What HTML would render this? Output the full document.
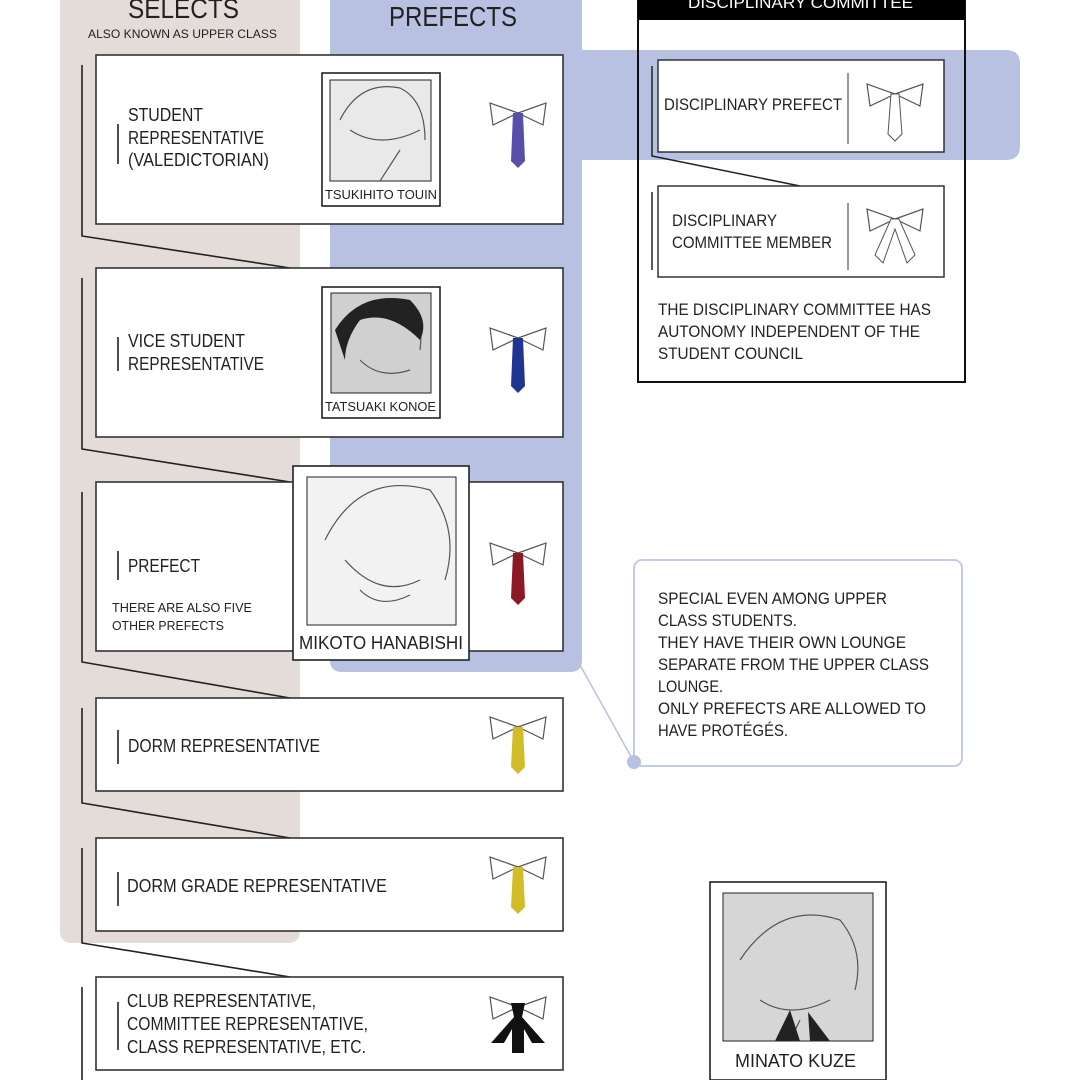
<!DOCTYPE html>
<html><head><meta charset="utf-8"><style>
html,body{margin:0;padding:0;background:#fff;width:1080px;height:1080px;overflow:hidden}
svg text{font-family:"Liberation Sans",sans-serif;fill:#222}
</style></head><body>
<svg width="1080" height="1080" viewBox="0 0 1080 1080" xmlns="http://www.w3.org/2000/svg">
<defs>
<g id="bow" fill="#fff" stroke="#555" stroke-width="1.2">
<polygon points="0,0 -28,-10 -25,12"/>
<polygon points="0,0 28,-10 25,12"/>
</g>
</defs>
<path d="M60 0 H300 V931 Q300 943 288 943 H72 Q60 943 60 931 Z" fill="#e4dcd9"/>
<path d="M330 0 H582 V660 Q582 672 570 672 H342 Q330 672 330 660 Z" fill="#b8c1e2"/>
<path d="M582 50 H1006 Q1020 50 1020 64 V146 Q1020 160 1006 160 H582 Z" fill="#b8c1e2"/>
<text x="128" y="18" font-size="28" textLength="111" lengthAdjust="spacingAndGlyphs">SELECTS</text>
<text x="88" y="38" font-size="12" textLength="189" lengthAdjust="spacingAndGlyphs">ALSO KNOWN AS UPPER CLASS</text>
<text x="389" y="26" font-size="28" textLength="128" lengthAdjust="spacingAndGlyphs">PREFECTS</text>
<rect x="638" y="-2" width="327" height="384" fill="none" stroke="#111" stroke-width="2"/>
<rect x="638" y="-2" width="327" height="22" fill="#000"/>
<text x="688" y="8" font-size="16" style="fill:#fff" textLength="225" lengthAdjust="spacingAndGlyphs">DISCIPLINARY COMMITTEE</text>
<path d="M652 66 V156 L800 186 M652 192 V270" fill="none" stroke="#222" stroke-width="1.5"/>
<rect x="658" y="60" width="286" height="92" fill="#fff" stroke="#333" stroke-width="1.5"/>
<rect x="658" y="186" width="286" height="91" fill="#fff" stroke="#333" stroke-width="1.5"/>
<line x1="848" y1="73" x2="848" y2="144" stroke="#333"/>
<line x1="848" y1="203" x2="848" y2="270" stroke="#333"/>
<g font-size="17">
<text x="664" y="110" textLength="178" lengthAdjust="spacingAndGlyphs">DISCIPLINARY PREFECT</text>
<text x="672" y="226" textLength="105" lengthAdjust="spacingAndGlyphs">DISCIPLINARY</text>
<text x="672" y="248" textLength="160" lengthAdjust="spacingAndGlyphs">COMMITTEE MEMBER</text>
<text x="658" y="315" textLength="273" lengthAdjust="spacingAndGlyphs">THE DISCIPLINARY COMMITTEE HAS</text>
<text x="658" y="337" textLength="262" lengthAdjust="spacingAndGlyphs">AUTONOMY INDEPENDENT OF THE</text>
<text x="658" y="359" textLength="145" lengthAdjust="spacingAndGlyphs">STUDENT COUNCIL</text>
</g>
<g transform="translate(895,94)"><use href="#bow"/><polygon points="-4,0 4,0 7,40 0,47 -7,40" fill="#fff" stroke="#555"/></g>
<g transform="translate(895,219)"><use href="#bow"/><path d="M-4 0 L-20 36 L-12 44 L0 10 L12 44 L20 36 L4 0 Z" fill="#fff" stroke="#555"/></g>
<g fill="none" stroke="#222" stroke-width="1.6">
<path d="M82 65 V236 L290 268"/>
<path d="M82 278 V449 L290 482"/>
<path d="M82 492 V662 L290 698"/>
<path d="M82 708 V803 L290 838"/>
<path d="M82 848 V943 L290 977"/>
<path d="M82 987 V1080"/>
</g>
<g fill="#fff" stroke="#333" stroke-width="1.6">
<rect x="96" y="55" width="467" height="169"/>
<rect x="96" y="268" width="467" height="169"/>
<rect x="96" y="482" width="467" height="169"/>
<rect x="96" y="698" width="467" height="93"/>
<rect x="96" y="838" width="467" height="93"/>
<rect x="96" y="977" width="467" height="93"/>
</g>
<g stroke="#222" stroke-width="1.6">
<line x1="118" y1="124" x2="118" y2="164"/>
<line x1="118" y1="337" x2="118" y2="371"/>
<line x1="118" y1="551" x2="118" y2="580"/>
<line x1="118" y1="730" x2="118" y2="764"/>
<line x1="118" y1="872" x2="118" y2="906"/>
<line x1="118" y1="1002" x2="118" y2="1050"/>
</g>
<g font-size="18">
<text x="128" y="121" textLength="75" lengthAdjust="spacingAndGlyphs">STUDENT</text>
<text x="128" y="144" textLength="136" lengthAdjust="spacingAndGlyphs">REPRESENTATIVE</text>
<text x="128" y="166" textLength="141" lengthAdjust="spacingAndGlyphs">(VALEDICTORIAN)</text>
<text x="128" y="347" textLength="117" lengthAdjust="spacingAndGlyphs">VICE STUDENT</text>
<text x="128" y="370" textLength="136" lengthAdjust="spacingAndGlyphs">REPRESENTATIVE</text>
<text x="128" y="572" textLength="72" lengthAdjust="spacingAndGlyphs">PREFECT</text>
<text x="128" y="752" textLength="192" lengthAdjust="spacingAndGlyphs">DORM REPRESENTATIVE</text>
<text x="127" y="892" textLength="260" lengthAdjust="spacingAndGlyphs">DORM GRADE REPRESENTATIVE</text>
<text x="127" y="1007" textLength="189" lengthAdjust="spacingAndGlyphs">CLUB REPRESENTATIVE,</text>
<text x="127" y="1030" textLength="241" lengthAdjust="spacingAndGlyphs">COMMITTEE REPRESENTATIVE,</text>
<text x="127" y="1053" textLength="239" lengthAdjust="spacingAndGlyphs">CLASS REPRESENTATIVE, ETC.</text>
</g>
<text x="112" y="612" font-size="13" textLength="140" lengthAdjust="spacingAndGlyphs">THERE ARE ALSO FIVE</text>
<text x="112" y="630" font-size="13" textLength="112" lengthAdjust="spacingAndGlyphs">OTHER PREFECTS</text>
<g transform="translate(518,113)"><use href="#bow"/><polygon points="-5,0 5,0 7,48 0,55 -7,48" fill="#5a4fa8"/></g>
<g transform="translate(518,338)"><use href="#bow"/><polygon points="-5,0 5,0 7,48 0,55 -7,48" fill="#203592"/></g>
<g transform="translate(518,553)"><use href="#bow"/><polygon points="-5,0 5,0 7,45 0,52 -7,45" fill="#8c1a24"/></g>
<g transform="translate(518,727)"><use href="#bow"/><polygon points="-5,0 5,0 7,40 0,47 -7,40" fill="#d2bd28"/></g>
<g transform="translate(518,867)"><use href="#bow"/><polygon points="-5,0 5,0 7,40 0,47 -7,40" fill="#d2bd28"/></g>
<g transform="translate(518,1007)"><use href="#bow"/><path d="M-7 -4 H7 L4 10 L27 36 L14 36 L6 22 L6 46 L-6 46 L-6 22 L-14 36 L-27 36 L-4 10 Z" fill="#111"/></g>
<g stroke="#222" stroke-width="1.6">
<rect x="322" y="73" width="118" height="133" fill="#fff"/>
<rect x="330" y="80" width="101" height="101" fill="#e9e9e9" stroke-width="1"/>
<rect x="322" y="287" width="118" height="131" fill="#fff"/>
<rect x="331" y="293" width="100" height="100" fill="#d0d0d0" stroke-width="1"/>
<rect x="293" y="466" width="176" height="194" fill="#fff"/>
<rect x="307" y="477" width="149" height="148" fill="#f2f2f2" stroke-width="1"/>
<rect x="710" y="882" width="176" height="198" fill="#fff"/>
<rect x="723" y="893" width="150" height="148" fill="#d6d6d6" stroke-width="1"/>
</g>
<g fill="none" stroke="#555" stroke-width="1.2">
<path d="M340 120 Q360 80 400 88 Q425 100 425 140 M350 130 Q380 150 420 130 M380 181 L400 150"/>
<path d="M340 330 Q360 295 400 300 Q425 310 420 350 M360 360 Q380 380 410 370"/>
<path d="M325 540 Q360 470 430 490 Q460 530 445 580 M345 560 Q380 600 420 580 M360 590 Q380 610 410 595"/>
<path d="M740 960 Q780 900 840 920 Q865 950 855 990 M760 1000 Q790 1020 830 1000 M790 1041 L800 1020"/>
</g>
<path d="M335 330 Q360 290 410 300 Q430 320 420 340 Q390 310 360 320 Q345 340 345 360 Z" fill="#222"/>
<path d="M775 1041 L790 1010 L800 1041 Z M810 1041 L808 1012 L830 1041 Z" fill="#222"/>
<text x="325" y="199" font-size="13" textLength="112" lengthAdjust="spacingAndGlyphs">TSUKIHITO TOUIN</text>
<text x="325" y="411" font-size="13" textLength="111" lengthAdjust="spacingAndGlyphs">TATSUAKI KONOE</text>
<text x="299" y="649" font-size="18" textLength="164" lengthAdjust="spacingAndGlyphs">MIKOTO HANABISHI</text>
<text x="735" y="1067" font-size="18" textLength="121" lengthAdjust="spacingAndGlyphs">MINATO KUZE</text>
<line x1="580" y1="665" x2="634" y2="762" stroke="#b8c1e2" stroke-width="1.5"/>
<rect x="634" y="560" width="328" height="206" rx="8" fill="#fff" stroke="#c3cbe6" stroke-width="2"/>
<circle cx="634" cy="762" r="7" fill="#b8c1e2"/>
<g font-size="17">
<text x="658" y="604" textLength="229" lengthAdjust="spacingAndGlyphs">SPECIAL EVEN AMONG UPPER</text>
<text x="658" y="626" textLength="139" lengthAdjust="spacingAndGlyphs">CLASS STUDENTS.</text>
<text x="658" y="648" textLength="248" lengthAdjust="spacingAndGlyphs">THEY HAVE THEIR OWN LOUNGE</text>
<text x="658" y="670" textLength="271" lengthAdjust="spacingAndGlyphs">SEPARATE FROM THE UPPER CLASS</text>
<text x="658" y="692" textLength="65" lengthAdjust="spacingAndGlyphs">LOUNGE.</text>
<text x="658" y="714" textLength="268" lengthAdjust="spacingAndGlyphs">ONLY PREFECTS ARE ALLOWED TO</text>
<text x="658" y="736" textLength="130" lengthAdjust="spacingAndGlyphs">HAVE PROTÉGÉS.</text>
</g>
</svg>
</body></html>
